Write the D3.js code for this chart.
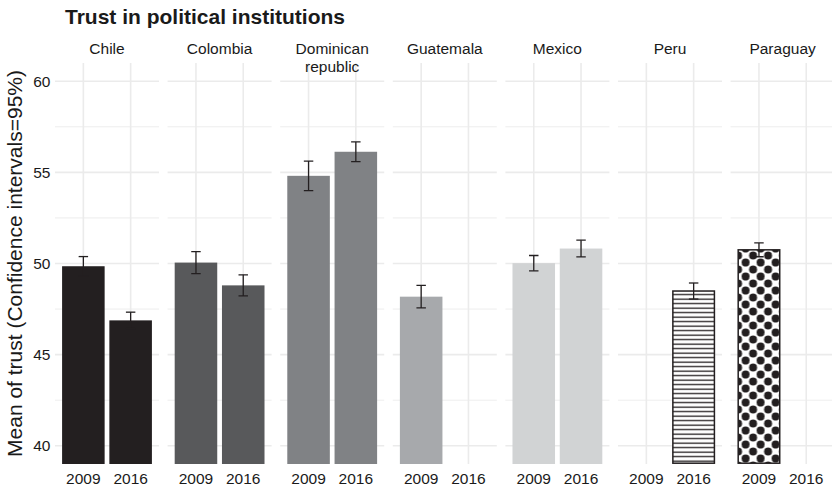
<!DOCTYPE html>
<html>
<head>
<meta charset="utf-8">
<script src="https://cdn.jsdelivr.net/npm/d3@7"></script>
<style>
  body { margin: 0; background: #fff; }
  text { font-family: "Liberation Sans", Arial, Helvetica, sans-serif; fill: #1a1a1a; }
</style>
</head>
<body>
<svg id="chart" width="832" height="488"></svg>
<script>
// Facets (one per country), in display order
const countries = ["Chile", "Colombia", "Dominican republic", "Guatemala", "Mexico", "Peru", "Paraguay"];
const stripLabels = [["Chile"], ["Colombia"], ["Dominican", "republic"], ["Guatemala"], ["Mexico"], ["Peru"], ["Paraguay"]];
const years = ["2009", "2016"];

// Mean of trust per survey wave (null = no survey that year)
const mean2009 = [49.85, 50.05, 54.81, 48.18, 50.02, null, 50.75];
const mean2016 = [46.88, 48.80, 56.13, null, 50.82, 48.49, null];
// Half-width of the 95% confidence interval
const ci2009 = [0.53, 0.60, 0.81, 0.62, 0.42, null, 0.38];
const ci2016 = [0.45, 0.58, 0.54, null, 0.46, 0.44, null];

const yTicks = [40, 45, 50, 55, 60];
const yMinor = [42.5, 47.5, 52.5, 57.5];

const fills = ["#231f20", "#58595b", "#808285", "#a7a9ac", "#d1d3d4", "url(#stripes)", "url(#dots)"];
const bordered = [false, false, false, false, false, true, true];

const svg = d3.select("#chart");

// Panel layout
const panelTop = 63, panelBottom = 464;
const panelLeft0 = 55, panelPitch = 112.6, panelW = 104;

const y = d3.scaleLinear().domain([39, 61]).range([panelBottom, panelTop]);
const x = d3.scaleBand().domain(years).range([0, panelW]).paddingInner(0.1).paddingOuter(0.15);
const bw = x.bandwidth();
const step = x.step();

// Fill patterns
const defs = svg.append("defs");
const stripes = defs.append("pattern").attr("id", "stripes")
  .attr("patternUnits", "userSpaceOnUse").attr("width", 10).attr("height", 4.5);
stripes.append("rect").attr("width", 10).attr("height", 4.5).attr("fill", "#fff");
stripes.append("rect").attr("y", 1.5).attr("width", 10).attr("height", 1.3).attr("fill", "#231f20");

const dotW = 15, dotH = 14;
const dots = defs.append("pattern").attr("id", "dots")
  .attr("patternUnits", "userSpaceOnUse").attr("width", dotW).attr("height", dotH);
dots.append("rect").attr("width", dotW).attr("height", dotH).attr("fill", "#fff");
[[dotW / 2, dotH / 4], [0, dotH * 3 / 4], [dotW, dotH * 3 / 4], [0, -dotH / 4], [dotW, -dotH / 4], [dotW / 2, dotH * 5 / 4]]
  .forEach(([cx, cy]) => {
    dots.append("circle").attr("cx", cx).attr("cy", cy).attr("r", 4).attr("fill", "#231f20");
  });

defs.append("clipPath").attr("id", "panelClip")
  .append("rect").attr("x", 0).attr("y", panelTop).attr("width", panelW).attr("height", panelBottom - panelTop);

// Title
svg.append("text").attr("x", 65).attr("y", 23.5)
  .attr("font-size", 21).attr("font-weight", "bold").text("Trust in political institutions");

// Y axis title
svg.append("text")
  .attr("transform", `translate(22,${(panelTop + panelBottom) / 2}) rotate(-90)`)
  .attr("text-anchor", "middle").attr("font-size", 21).attr("fill", "#1a1a1a")
  .text("Mean of trust (Confidence intervals=95%)");

// Y tick labels
svg.append("g").selectAll("text").data(yTicks).join("text")
  .attr("x", 50.5).attr("y", d => y(d)).attr("dy", "0.36em")
  .attr("text-anchor", "end").attr("font-size", 15.5).attr("fill", "#333")
  .text(d => d);

countries.forEach((c, i) => {
  const g = svg.append("g").attr("transform", `translate(${panelLeft0 + i * panelPitch},0)`);

  // grid
  g.append("g").selectAll("line").data(yMinor).join("line")
    .attr("x1", 0).attr("x2", panelW).attr("y1", d => y(d)).attr("y2", d => y(d))
    .attr("stroke", "#ebebeb").attr("stroke-width", 0.9);
  g.append("g").selectAll("line").data(yTicks).join("line")
    .attr("x1", 0).attr("x2", panelW).attr("y1", d => y(d)).attr("y2", d => y(d))
    .attr("stroke", "#ebebeb").attr("stroke-width", 1.6);
  g.append("g").selectAll("line").data(years).join("line")
    .attr("x1", d => x(d) + bw / 2).attr("x2", d => x(d) + bw / 2)
    .attr("y1", panelTop).attr("y2", panelBottom)
    .attr("stroke", "#ebebeb").attr("stroke-width", 1.6);

  // strip label
  const st = g.append("text").attr("x", panelW / 2).attr("y", 54)
    .attr("text-anchor", "middle").attr("font-size", 15.5).attr("fill", "#1a1a1a");
  stripLabels[i].forEach((line, k) => {
    st.append("tspan").attr("x", panelW / 2).attr("dy", k === 0 ? 0 : 17.7).text(line);
  });

  // x tick labels
  g.append("g").selectAll("text").data(years).join("text")
    .attr("x", d => x(d) + bw / 2).attr("y", 483.5)
    .attr("text-anchor", "middle").attr("font-size", 15.5).attr("fill", "#333")
    .text(d => d);

  const rows = [
    { year: "2009", mean: mean2009[i], ci: ci2009[i] },
    { year: "2016", mean: mean2016[i], ci: ci2016[i] }
  ].filter(d => d.mean !== null);

  const plot = g.append("g").attr("clip-path", "url(#panelClip)");

  // bars
  plot.selectAll("rect.bar").data(rows).join("rect").attr("class", "bar")
    .attr("x", d => x(d.year) + (bordered[i] ? 0.5 : 0))
    .attr("width", bw - (bordered[i] ? 1 : 0))
    .attr("y", d => y(d.mean))
    .attr("height", d => panelBottom - y(d.mean) - (bordered[i] ? 0.8 : 0))
    .attr("fill", fills[i])
    .attr("stroke", bordered[i] ? "#231f20" : "none")
    .attr("stroke-width", bordered[i] ? 1.5 : 0);

  // error bars
  const capW = step * 0.2;
  const eb = plot.selectAll("g.eb").data(rows).join("g").attr("class", "eb")
    .attr("stroke", "#231f20").attr("stroke-width", 1.3);
  eb.append("line")
    .attr("x1", d => x(d.year) + bw / 2).attr("x2", d => x(d.year) + bw / 2)
    .attr("y1", d => y(d.mean + d.ci)).attr("y2", d => y(d.mean - d.ci));
  eb.append("line")
    .attr("x1", d => x(d.year) + bw / 2 - capW / 2).attr("x2", d => x(d.year) + bw / 2 + capW / 2)
    .attr("y1", d => y(d.mean + d.ci)).attr("y2", d => y(d.mean + d.ci));
  eb.append("line")
    .attr("x1", d => x(d.year) + bw / 2 - capW / 2).attr("x2", d => x(d.year) + bw / 2 + capW / 2)
    .attr("y1", d => y(d.mean - d.ci)).attr("y2", d => y(d.mean - d.ci));
});
</script>
</body>
</html>
